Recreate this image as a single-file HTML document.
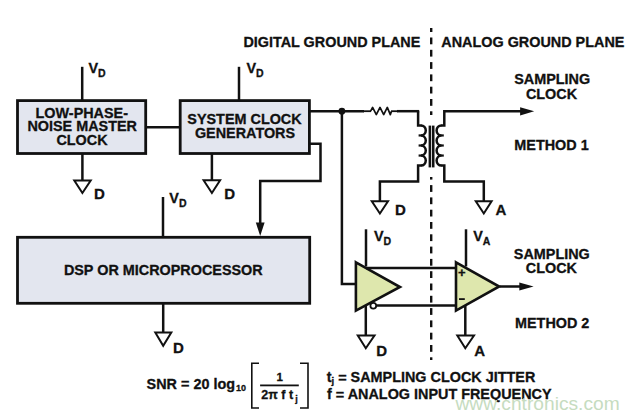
<!DOCTYPE html>
<html><head><meta charset="utf-8"><style>
html,body{margin:0;padding:0;background:#fff;}
svg{display:block;font-family:"Liberation Sans",sans-serif;}
text{stroke:#111;stroke-width:0.3px;}
</style></head><body>
<svg width="640" height="420" viewBox="0 0 640 420">
<rect width="640" height="420" fill="#fff"/>
<rect x="430.0" y="28.00" width="2.4" height="4.00" fill="#111111"/>
<rect x="430.0" y="37.50" width="2.4" height="6.80" fill="#111111"/>
<rect x="430.0" y="49.80" width="2.4" height="6.80" fill="#111111"/>
<rect x="430.0" y="62.10" width="2.4" height="6.80" fill="#111111"/>
<rect x="430.0" y="74.40" width="2.4" height="6.80" fill="#111111"/>
<rect x="430.0" y="86.70" width="2.4" height="6.80" fill="#111111"/>
<rect x="430.0" y="99.00" width="2.4" height="6.80" fill="#111111"/>
<rect x="430.0" y="111.30" width="2.4" height="3.70" fill="#111111"/>
<rect x="430.0" y="177.00" width="2.4" height="2.60" fill="#111111"/>
<rect x="430.0" y="185.10" width="2.4" height="6.80" fill="#111111"/>
<rect x="430.0" y="197.40" width="2.4" height="6.80" fill="#111111"/>
<rect x="430.0" y="209.70" width="2.4" height="6.80" fill="#111111"/>
<rect x="430.0" y="222.00" width="2.4" height="6.80" fill="#111111"/>
<rect x="430.0" y="234.30" width="2.4" height="6.80" fill="#111111"/>
<rect x="430.0" y="246.60" width="2.4" height="6.80" fill="#111111"/>
<rect x="430.0" y="258.90" width="2.4" height="6.80" fill="#111111"/>
<rect x="430.0" y="271.20" width="2.4" height="6.80" fill="#111111"/>
<rect x="430.0" y="283.50" width="2.4" height="6.80" fill="#111111"/>
<rect x="430.0" y="295.80" width="2.4" height="6.80" fill="#111111"/>
<rect x="430.0" y="308.10" width="2.4" height="6.80" fill="#111111"/>
<rect x="430.0" y="320.40" width="2.4" height="6.80" fill="#111111"/>
<rect x="430.0" y="332.70" width="2.4" height="6.80" fill="#111111"/>
<rect x="430.0" y="345.00" width="2.4" height="6.80" fill="#111111"/>
<rect x="430.0" y="357.30" width="2.4" height="2.70" fill="#111111"/>
<rect x="17.5" y="100.6" width="128.2" height="52.900000000000006" fill="#e3e6ef" stroke="#111111" stroke-width="2.8"/>
<rect x="180.2" y="100.6" width="129.2" height="52.900000000000006" fill="#e3e6ef" stroke="#111111" stroke-width="2.8"/>
<rect x="17.5" y="237.3" width="292.2" height="66.0" fill="#e3e6ef" stroke="#111111" stroke-width="2.8"/>
<text x="81.8" y="117.80" text-anchor="middle" font-size="14.4" font-weight="bold" fill="#111111" >LOW-PHASE-</text>
<text x="82.2" y="131.40" text-anchor="middle" font-size="14.4" font-weight="bold" fill="#111111" >NOISE MASTER</text>
<text x="82" y="145.00" text-anchor="middle" font-size="14.4" font-weight="bold" fill="#111111" >CLOCK</text>
<text x="244.5" y="124.40" text-anchor="middle" font-size="14.4" font-weight="bold" fill="#111111" >SYSTEM CLOCK</text>
<text x="245" y="137.50" text-anchor="middle" font-size="14.4" font-weight="bold" fill="#111111" >GENERATORS</text>
<text x="163.3" y="274.70" text-anchor="middle" font-size="14.4" font-weight="bold" fill="#111111" >DSP OR MICROPROCESSOR</text>
<text x="243.4" y="46.70" text-anchor="start" font-size="14.4" font-weight="bold" fill="#111111" >DIGITAL GROUND PLANE</text>
<text x="441.3" y="46.70" text-anchor="start" font-size="14.4" font-weight="bold" fill="#111111" >ANALOG GROUND PLANE</text>
<path d="M82.2,66.8 L82.2,100.6" fill="none" stroke="#111111" stroke-width="2.5" stroke-linejoin="miter" stroke-linecap="butt"/>
<text x="88.5" y="72.5" font-size="14.4" font-weight="bold" fill="#111111">V<tspan font-size="10.5" dy="4.2" dx="0">D</tspan></text>
<path d="M82.4,153.5 L82.4,180.5" fill="none" stroke="#111111" stroke-width="2.5" stroke-linejoin="miter" stroke-linecap="butt"/>
<path d="M74.3,180.5 L90.7,180.5 L82.4,193 Z" fill="#fff" stroke="#111111" stroke-width="2.0" stroke-linejoin="miter"/>
<text x="94" y="199.30" text-anchor="start" font-size="15" font-weight="bold" fill="#111111" >D</text>
<path d="M145.7,127.3 L180.2,127.3" fill="none" stroke="#111111" stroke-width="2.5" stroke-linejoin="miter" stroke-linecap="butt"/>
<path d="M239,66.8 L239,100.6" fill="none" stroke="#111111" stroke-width="2.5" stroke-linejoin="miter" stroke-linecap="butt"/>
<text x="246.5" y="72.5" font-size="14.4" font-weight="bold" fill="#111111">V<tspan font-size="10.5" dy="4.2" dx="0">D</tspan></text>
<path d="M211.9,153.5 L211.9,180.3" fill="none" stroke="#111111" stroke-width="2.5" stroke-linejoin="miter" stroke-linecap="butt"/>
<path d="M203.6,180.3 L220.1,180.3 L211.9,193 Z" fill="#fff" stroke="#111111" stroke-width="2.0" stroke-linejoin="miter"/>
<text x="224.3" y="198.90" text-anchor="start" font-size="15" font-weight="bold" fill="#111111" >D</text>
<path d="M309,111.2 L364,111.2" fill="none" stroke="#111111" stroke-width="2.5" stroke-linejoin="miter" stroke-linecap="butt"/>
<path d="M363,111.2 L371,111.2" fill="none" stroke="#111111" stroke-width="1.8" stroke-linejoin="miter" stroke-linecap="butt"/>
<path d="M370.6,111.2 L372.6,107.4 L376.3,114.6 L380,107.4 L383.7,114.6 L387.3,107.4 L390.3,114.6 L391.5,111.2" fill="none" stroke="#111111" stroke-width="1.7" stroke-linejoin="round" stroke-linecap="butt"/>
<path d="M391,111.2 L398,111.2" fill="none" stroke="#111111" stroke-width="1.8" stroke-linejoin="miter" stroke-linecap="butt"/>
<path d="M397,111.2 L419.2,111.2" fill="none" stroke="#111111" stroke-width="2.5" stroke-linejoin="miter" stroke-linecap="butt"/>
<circle cx="341.9" cy="111.2" r="3.4" fill="#111111"/>
<path d="M341.9,111.2 L341.9,284 L356,284" fill="none" stroke="#111111" stroke-width="2.5" stroke-linejoin="miter" stroke-linecap="butt"/>
<path d="M309.4,143.8 L320.5,143.8 L320.5,181 L260.2,181 L260.2,224" fill="none" stroke="#111111" stroke-width="2.5" stroke-linejoin="miter" stroke-linecap="butt"/>
<path d="M255.8,222.5 L264.6,222.5 L260.2,236 Z" fill="#111111"/>
<path d="M163,197 L163,237.3" fill="none" stroke="#111111" stroke-width="2.5" stroke-linejoin="miter" stroke-linecap="butt"/>
<text x="169.3" y="203" font-size="14.4" font-weight="bold" fill="#111111">V<tspan font-size="10.5" dy="4.2" dx="0">D</tspan></text>
<path d="M163.2,303.3 L163.2,332.5" fill="none" stroke="#111111" stroke-width="2.5" stroke-linejoin="miter" stroke-linecap="butt"/>
<path d="M155.3,332.5 L171.3,332.5 L163.2,345.7 Z" fill="#fff" stroke="#111111" stroke-width="2.0" stroke-linejoin="miter"/>
<text x="173" y="352.60" text-anchor="start" font-size="15" font-weight="bold" fill="#111111" >D</text>
<path d="M421,125.4 A5,5.03 0 0 1 421,135.45 A5,5.03 0 0 1 421,145.50 A5,5.03 0 0 1 421,155.55 A5,5.03 0 0 1 421,165.60" fill="none" stroke="#111111" stroke-width="2.5"/>
<path d="M418.6,135.45000000000002 L421.8,135.45000000000002" fill="none" stroke="#111111" stroke-width="2.2" stroke-linejoin="miter" stroke-linecap="butt"/>
<path d="M418.6,145.5 L421.8,145.5" fill="none" stroke="#111111" stroke-width="2.2" stroke-linejoin="miter" stroke-linecap="butt"/>
<path d="M418.6,155.55 L421.8,155.55" fill="none" stroke="#111111" stroke-width="2.2" stroke-linejoin="miter" stroke-linecap="butt"/>
<path d="M421.5,125.4 L418.1,125.4 L418.1,111.2" fill="none" stroke="#111111" stroke-width="2.5" stroke-linejoin="miter" stroke-linecap="butt"/>
<path d="M421.5,165.60000000000002 L418.1,165.60000000000002 L418.1,181.4 L379.9,181.4 L379.9,201.2" fill="none" stroke="#111111" stroke-width="2.5" stroke-linejoin="miter" stroke-linecap="butt"/>
<path d="M371.8,201.2 L388,201.2 L379.9,213.5 Z" fill="#fff" stroke="#111111" stroke-width="2.0" stroke-linejoin="miter"/>
<text x="395" y="215.40" text-anchor="start" font-size="15" font-weight="bold" fill="#111111" >D</text>
<rect x="428.6" y="125.6" width="2.5" height="41.8" fill="#111111"/>
<rect x="431.9" y="125.6" width="2.6" height="41.8" fill="#111111"/>
<path d="M441.4,125.4 A5,5.03 0 0 0 441.4,135.45 A5,5.03 0 0 0 441.4,145.50 A5,5.03 0 0 0 441.4,155.55 A5,5.03 0 0 0 441.4,165.60" fill="none" stroke="#111111" stroke-width="2.5"/>
<path d="M440.6,135.45000000000002 L443.8,135.45000000000002" fill="none" stroke="#111111" stroke-width="2.2" stroke-linejoin="miter" stroke-linecap="butt"/>
<path d="M440.6,145.5 L443.8,145.5" fill="none" stroke="#111111" stroke-width="2.2" stroke-linejoin="miter" stroke-linecap="butt"/>
<path d="M440.6,155.55 L443.8,155.55" fill="none" stroke="#111111" stroke-width="2.2" stroke-linejoin="miter" stroke-linecap="butt"/>
<path d="M441,125.4 L444.3,125.4 L444.3,111.3 L521,111.3" fill="none" stroke="#111111" stroke-width="2.5" stroke-linejoin="miter" stroke-linecap="butt"/>
<path d="M520.1,107.2 L534.2,111.3 L520.1,115.4 Z" fill="#111111"/>
<path d="M441,165.60000000000002 L444.3,165.60000000000002 L444.3,181.4 L483.8,181.4 L483.8,201.2" fill="none" stroke="#111111" stroke-width="2.5" stroke-linejoin="miter" stroke-linecap="butt"/>
<path d="M475.8,201.2 L491.6,201.2 L483.8,213.5 Z" fill="#fff" stroke="#111111" stroke-width="2.0" stroke-linejoin="miter"/>
<text x="495.6" y="215.40" text-anchor="start" font-size="15" font-weight="bold" fill="#111111" >A</text>
<text x="552.2" y="84.40" text-anchor="middle" font-size="14.4" font-weight="bold" fill="#111111" >SAMPLING</text>
<text x="551.5" y="99.00" text-anchor="middle" font-size="14.4" font-weight="bold" fill="#111111" >CLOCK</text>
<text x="551.5" y="150.00" text-anchor="middle" font-size="14.4" font-weight="bold" fill="#111111" >METHOD 1</text>
<text x="551.8" y="259.40" text-anchor="middle" font-size="14.4" font-weight="bold" fill="#111111" >SAMPLING</text>
<text x="551.4" y="273.20" text-anchor="middle" font-size="14.4" font-weight="bold" fill="#111111" >CLOCK</text>
<text x="552.2" y="327.60" text-anchor="middle" font-size="14.4" font-weight="bold" fill="#111111" >METHOD 2</text>
<path d="M355.9,262.3 L400,287 L355.9,310.6 Z" fill="#dee7ad" stroke="#111111" stroke-width="2.6" stroke-linejoin="miter"/>
<path d="M366,229.3 L366,266.5" fill="none" stroke="#111111" stroke-width="2.5" stroke-linejoin="miter" stroke-linecap="butt"/>
<text x="373.9" y="241" font-size="14.4" font-weight="bold" fill="#111111">V<tspan font-size="10.5" dy="4.2" dx="0">D</tspan></text>
<path d="M366,267.9 L456.5,267.9" fill="none" stroke="#111111" stroke-width="2.5" stroke-linejoin="miter" stroke-linecap="butt"/>
<circle cx="373.3" cy="305.7" r="2.9" fill="#fff" stroke="#111111" stroke-width="1.8"/>
<path d="M376.2,305.5 L456.5,305.5" fill="none" stroke="#111111" stroke-width="2.5" stroke-linejoin="miter" stroke-linecap="butt"/>
<path d="M365.8,305 L365.8,335.5" fill="none" stroke="#111111" stroke-width="2.5" stroke-linejoin="miter" stroke-linecap="butt"/>
<path d="M357.8,335.5 L374.5,335.5 L365.8,348.2 Z" fill="#fff" stroke="#111111" stroke-width="2.0" stroke-linejoin="miter"/>
<text x="376.2" y="356.00" text-anchor="start" font-size="15" font-weight="bold" fill="#111111" >D</text>
<path d="M456,262.3 L499.2,286.5 L456,310.6 Z" fill="#dee7ad" stroke="#111111" stroke-width="2.6" stroke-linejoin="miter"/>
<path d="M466,229.3 L466,266.5" fill="none" stroke="#111111" stroke-width="2.5" stroke-linejoin="miter" stroke-linecap="butt"/>
<text x="473.2" y="241.2" font-size="14.4" font-weight="bold" fill="#111111">V<tspan font-size="10.5" dy="4.2" dx="0">A</tspan></text>
<path d="M499.6,286.5 L520,286.5" fill="none" stroke="#111111" stroke-width="2.5" stroke-linejoin="miter" stroke-linecap="butt"/>
<path d="M519.3,282.4 L533.6,286.5 L519.3,290.6 Z" fill="#111111"/>
<path d="M465.3,305 L465.3,335.5" fill="none" stroke="#111111" stroke-width="2.5" stroke-linejoin="miter" stroke-linecap="butt"/>
<path d="M457.3,335.5 L474,335.5 L465.3,348.2 Z" fill="#fff" stroke="#111111" stroke-width="2.0" stroke-linejoin="miter"/>
<text x="474.3" y="356.00" text-anchor="start" font-size="15" font-weight="bold" fill="#111111" >A</text>
<text x="461.7" y="277.00" text-anchor="middle" font-size="13" font-weight="bold" fill="#111111" >+</text>
<rect x="459" y="298.2" width="5.8" height="1.8" fill="#111111"/>
<text x="146.6" y="388.60" text-anchor="start" font-size="14.4" font-weight="bold" fill="#111111" >SNR = 20 log</text>
<text x="236" y="391.20" text-anchor="start" font-size="9.4" font-weight="bold" fill="#111111" textLength="10" lengthAdjust="spacingAndGlyphs">10</text>
<path d="M259,363.2 L251.8,363.2 L251.8,408 L259,408" fill="none" stroke="#111111" stroke-width="1.6" stroke-linejoin="miter" stroke-linecap="butt"/>
<path d="M300,363.2 L308,363.2 L308,408 L300,408" fill="none" stroke="#111111" stroke-width="1.6" stroke-linejoin="miter" stroke-linecap="butt"/>
<text x="279.6" y="380.80" text-anchor="middle" font-size="11.5" font-weight="bold" fill="#111111" >1</text>
<rect x="260.1" y="384.5" width="38.7" height="1.8" fill="#111111"/>
<text x="261.3" y="399.40" text-anchor="start" font-size="12.5" font-weight="bold" fill="#111111" >2π f t</text>
<text x="295.3" y="402.00" text-anchor="start" font-size="9" font-weight="bold" fill="#111111" >j</text>
<text x="326.75" y="382.00" text-anchor="start" font-size="14.4" font-weight="bold" fill="#111111" >t<tspan font-size="9.5" dy="2.2">j</tspan><tspan dy="-0.9"> =</tspan><tspan dy="-1.3"> SAMPLING CLOCK JITTER</tspan></text>
<text x="327" y="398.60" text-anchor="start" font-size="14.4" font-weight="bold" fill="#111111" >f<tspan dy="1.2"> =</tspan><tspan dy="-1.2"> ANALOG INPUT FREQUENCY</tspan></text>
<text x="455.5" y="410.40" text-anchor="start" font-size="19.2" font-weight="normal" fill="#c6dcc0" style="stroke:none">www.cntronics.com</text>
</svg></body></html>
